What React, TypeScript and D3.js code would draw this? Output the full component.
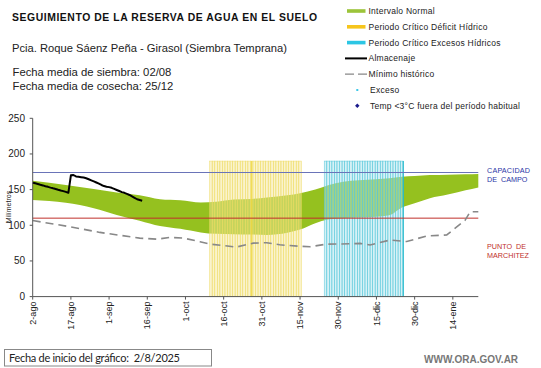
import React from 'react';
import * as d3 from 'd3';

// days counted from 2/8/2025
const tickLabels = ['2-ago', '17-ago', '1-sep', '16-sep', '1-oct', '16-oct', '31-oct', '15-nov', '30-nov', '15-dic', '30-dic', '14-ene'];
const yTicks = [0, 50, 100, 150, 200, 250];

// intervalo normal (upper / lower limits)
const bandDays = [0, 13, 24, 33, 42, 50, 58, 66, 72, 79, 86, 92, 100, 105, 111, 116, 122, 128, 135, 140, 145, 150, 156, 163, 170, 175];
const bandUpper = [162.5, 156.5, 151, 146, 142, 136.5, 135, 132, 133, 136, 137, 139, 142, 145, 150, 156, 161, 163, 164.5, 166, 168, 169, 170.5, 171, 171.5, 172];
const bandLower = [135.5, 131.5, 124, 114.5, 106.5, 99, 95, 90, 88, 87.5, 87, 86.5, 89.5, 94, 103, 108, 110, 111, 112, 114, 125, 131, 138, 143, 149, 153];

// almacenaje (daily, days 0..43)
const storage = [159.7, 158.8, 157.9, 156.8, 155.9, 154.8, 153.9, 152.8, 151.8, 150.9, 149.8, 148.8, 147.9, 146.8, 145.5,
  170, 170.5, 168.5, 168, 167.5, 167, 166, 164.5, 163, 161.5, 160, 158.5, 156.5, 155, 154, 153.5, 152.5, 151, 149.5,
  148, 146.5, 145.5, 144, 142.5, 140.5, 138.5, 136.5, 135.5, 134.5];

// minimo historico
const minDays = [0, 14.6, 26.4, 42, 48.7, 54, 59.2, 65.7, 69.6, 80, 86.6, 91.9, 97, 105, 109, 115.5, 120.7, 128.6, 132.5, 140.3, 146.9, 154.8, 162.6, 169.8, 171.8, 175];
const minVals = [106.6, 98, 90, 82, 80.5, 83, 82, 77, 73.6, 69.5, 75, 75.6, 72.6, 70.5, 70, 73.6, 73.7, 74.6, 72.4, 79.3, 77.2, 85, 86.4, 107, 119, 119];

const deficitDays = d3.range(70, 106);
const excessDays = d3.range(115, 146);
const periodTop = 190;
const fieldCapacity = 174;
const wiltingPoint = 110;

const legendItems = [
  { label: 'Intervalo Normal', kind: 'rect', color: '#9cc43a' },
  { label: 'Periodo Crítico Déficit Hídrico', kind: 'rect', color: '#f6c51c' },
  { label: 'Periodo Crítico Excesos Hídricos', kind: 'rect', color: '#2cc6e4' },
  { label: 'Almacenaje', kind: 'line', color: '#000' },
  { label: 'Mínimo histórico', kind: 'dash', color: '#888' },
  { label: 'Exceso', kind: 'dot', color: '#3cc8e8' },
  { label: 'Temp <3°C fuera del período habitual', kind: 'diamond', color: '#1a1a8c' },
];

export default function App() {
  const x = d3.scaleLinear().domain([0, 175]).range([32.7, 478.3]);
  const y = d3.scaleLinear().domain([0, 250]).range([296.6, 118.3]);
  const step = x(1) - x(0);

  const area = d3.area<number>()
    .x((_, i) => x(bandDays[i]))
    .y0((_, i) => y(bandLower[i]))
    .y1((_, i) => y(bandUpper[i]))
    .curve(d3.curveMonotoneX);

  const storageLine = d3.line<number>().x((_, i) => x(i)).y(d => y(d));
  const minLine = d3.line<number>().x((_, i) => x(minDays[i])).y(d => y(d));

  const font = 'Arial, "Liberation Sans", sans-serif';

  return (
    <svg width={541} height={368} style={{ position: 'absolute', left: 0, top: 0, background: '#fff' }} fontFamily={font}>
      {/* header */}
      <text x={12} y={20.5} fontSize={10.4} fontWeight="bold" fill="#111" textLength={305} lengthAdjust="spacing">SEGUIMIENTO DE LA RESERVA DE AGUA EN EL SUELO</text>
      <text x={12} y={51.5} fontSize={11.3} fill="#222" textLength={275} lengthAdjust="spacingAndGlyphs">Pcia. Roque Sáenz Peña - Girasol (Siembra Temprana)</text>
      <text x={12.5} y={76.3} fontSize={11.3} fill="#222">Fecha media de siembra: 02/08</text>
      <text x={12.5} y={90} fontSize={11.3} fill="#222">Fecha media de cosecha: 25/12</text>

      {/* legend */}
      {legendItems.map((it, i) => {
        const cy = 11 + i * 15.8;
        return (
          <g key={it.label}>
            {it.kind === 'rect' && <rect x={347} y={cy - 1.8} width={18.5} height={3.6} fill={it.color} />}
            {it.kind === 'line' && <line x1={345} x2={367} y1={cy} y2={cy} stroke={it.color} strokeWidth={2} />}
            {it.kind === 'dash' && <line x1={345} x2={367} y1={cy} y2={cy} stroke={it.color} strokeWidth={1.3} strokeDasharray="9 4" />}
            {it.kind === 'dot' && <rect x={356.3} y={cy - 1} width={2} height={2} fill={it.color} />}
            {it.kind === 'diamond' && <path d={`M357.3,${cy - 2.2}L359.5,${cy}L357.3,${cy + 2.2}L355.1,${cy}Z`} fill={it.color} />}
            <text x={it.kind === 'dot' || it.kind === 'diamond' ? 370 : 368.5} y={cy + 3} fontSize={8.5} letterSpacing={0.25} fill="#222">{it.label}</text>
          </g>
        );
      })}

      {/* normal interval */}
      <path d={area(bandDays) || ''} fill="#95c11f" />

      {/* critical periods */}
      {deficitDays.map(d => (
        <rect key={'d' + d} x={x(d) - step / 2} y={y(periodTop)} width={step} height={y(0) - y(periodTop)}
          fill="#f5e89a" fillOpacity={0.5} stroke="#efdc62" strokeOpacity={0.8} strokeWidth={0.6} />
      ))}
      {excessDays.map(d => (
        <rect key={'e' + d} x={x(d) - step / 2} y={y(periodTop)} width={step} height={y(0) - y(periodTop)}
          fill="#ade4ee" fillOpacity={0.5} stroke="#55c8da" strokeOpacity={0.85} strokeWidth={0.6} />
      ))}
      <line x1={x(86)} x2={x(86)} y1={y(periodTop)} y2={y(0)} stroke="#f0d840" strokeWidth={1} />
      <line x1={x(145) + step / 2} x2={x(145) + step / 2} y1={y(periodTop)} y2={y(0)} stroke="#1fb8cc" strokeWidth={1.2} />

      {/* reference levels */}
      <line x1={x(0)} x2={x(175)} y1={y(fieldCapacity)} y2={y(fieldCapacity)} stroke="#6a74b8" strokeWidth={1} />
      <line x1={x(0)} x2={x(175)} y1={y(wiltingPoint)} y2={y(wiltingPoint)} stroke="#c0302a" strokeWidth={1} />
      <text x={487} y={173.3} fontSize={7.2} fill="#2a36a6" textLength={43}>CAPACIDAD</text>
      <text x={487} y={181.7} fontSize={7.2} fill="#2a36a6" xmlSpace="preserve">DE  CAMPO</text>
      <text x={487} y={249.3} fontSize={7.2} fill="#c0302a" xmlSpace="preserve">PUNTO  DE</text>
      <text x={487} y={257.7} fontSize={7.2} fill="#c0302a" textLength={42}>MARCHITEZ</text>

      {/* series */}
      <path d={minLine(minVals) || ''} fill="none" stroke="#888" strokeWidth={1.6} strokeDasharray="8 5" />
      <path d={storageLine(storage) || ''} fill="none" stroke="#000" strokeWidth={2} strokeLinejoin="round" />

      {/* axes */}
      <line x1={x(0)} x2={x(0)} y1={y(250)} y2={y(0)} stroke="#555" strokeWidth={1} />
      <line x1={x(0)} x2={x(175)} y1={y(0)} y2={y(0)} stroke="#555" strokeWidth={1} />
      {yTicks.map(t => (
        <g key={t}>
          <line x1={x(0) - 3} x2={x(0)} y1={y(t)} y2={y(t)} stroke="#555" />
          <text x={25} y={y(t) + 3.5} fontSize={10} textAnchor="end" fill="#222">{t}</text>
        </g>
      ))}
      <text transform={`translate(11,207) rotate(-90)`} fontSize={7} textAnchor="middle" fill="#222">Milímetros</text>
      {tickLabels.map((lab, i) => {
        const px = x(i * 15);
        return (
          <g key={lab}>
            <line x1={px} x2={px} y1={y(0)} y2={y(0) + 3} stroke="#555" />
            <text transform={`translate(${px + 3.2},${y(0) + 5}) rotate(-90)`} fontSize={9} textAnchor="end" fill="#222">{lab}</text>
          </g>
        );
      })}

      {/* footer */}
      <rect x={4.5} y={349.5} width={207} height={16.5} fill="none" stroke="#888" strokeWidth={1} />
      <text x={9} y={361.5} fontSize={11} fontFamily="Lato, Carlito, sans-serif" fill="#222" xmlSpace="preserve" textLength={171}>Fecha de inicio del gráfico:  2/8/2025</text>
      <text x={424} y={363.3} fontSize={10} fontWeight="bold" fill="#777">WWW.ORA.GOV.AR</text>
    </svg>
  );
}
